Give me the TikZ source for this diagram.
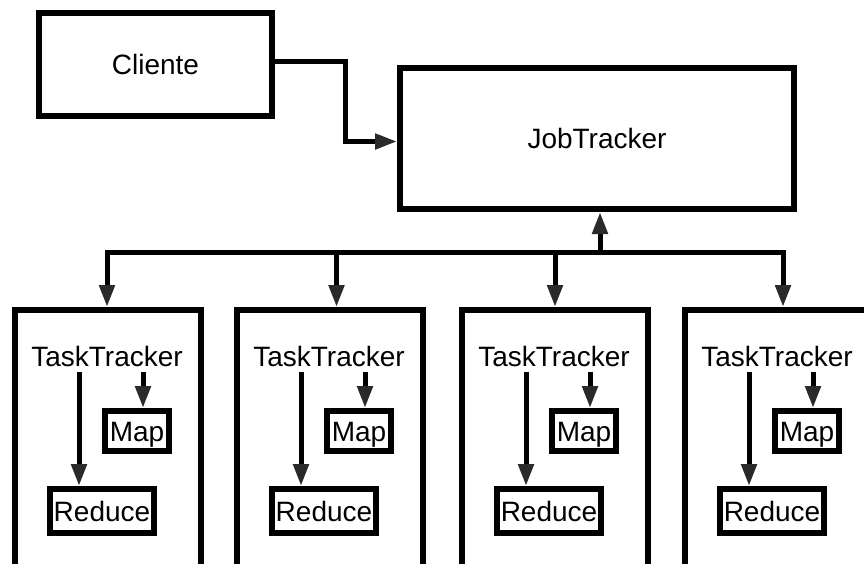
\documentclass[tikz,border=0pt]{standalone}
\usepackage{fontspec}
\setmainfont{Liberation Sans}
\usetikzlibrary{arrows.meta}

\definecolor{tipgray}{HTML}{2A2A2A}

\tikzset{
  box/.style={draw=black, line width=6pt, fill=white, inner sep=0pt,
    anchor=north west, line join=miter},
  lbl/.style={font=\fontsize{28}{32}\selectfont, text height=20pt,
    text depth=0pt, inner sep=0pt},
  ttlabel/.style={lbl, inner ysep=6pt},
  wire/.style={draw=black, line width=5pt, line join=miter},
  arr/.style={wire, -{Triangle[length=22pt,width=15pt,color=tipgray]}},
}

\begin{document}
\begin{tikzpicture}[x=1pt,y=-1pt]
  \useasboundingbox (0,0) rectangle (864,563);
  \clip (0,0) rectangle (864,563);

  % client and job tracker
  \node[box, minimum width=233pt, minimum height=103pt] (cl) at (36,10) {};
  \node[lbl] at (cl.center) {Cliente};
  \node[box, minimum width=394pt, minimum height=141pt] (jt) at (397,65) {};
  \node[lbl] at (jt.center) {JobTracker};

  \draw[arr] ([yshift=3.5pt]cl.east) -- ++(70,0) |- ([yshift=-3pt]jt.west);

  % task tracker boxes, each with its Map and Reduce
  \foreach \i/\L in {1/12, 2/234, 3/459, 4/682} {
    \node[box, minimum width=186pt, minimum height=300pt] (b\i) at (\L,307) {};
    \node[ttlabel] (tt\i) at (\L+95,356) {TaskTracker};
    \node[box, minimum width=64pt, minimum height=40pt] (map\i) at (\L+90,408) {};
    \node[lbl] at (map\i.center) {Map};
    \node[box, minimum width=104pt, minimum height=44pt] (red\i) at (\L+35,486) {};
    \node[lbl] at (red\i.center) {Reduce};
    \draw[arr] ([xshift=-28pt]tt\i.south) -- ([xshift=-23pt]red\i.north);
    \draw[arr] ([xshift=36pt]tt\i.south) -- ([xshift=6pt]map\i.north);
  }

  % bus between the job tracker and the task trackers
  \coordinate (bus) at (600,252);
  \draw[arr] (bus) -- ([xshift=3pt]jt.south);
  \draw[arr] (bus) -| ([xshift=-1pt]b1.north);
  \draw[arr] (bus) -| ([xshift=5pt]b4.north);
  \draw[arr] ([xshift=6.5pt]b2.north |- bus) -- ([xshift=6.5pt]b2.north);
  \draw[arr] (b3.north |- bus) -- (b3.north);
\end{tikzpicture}
\end{document}
